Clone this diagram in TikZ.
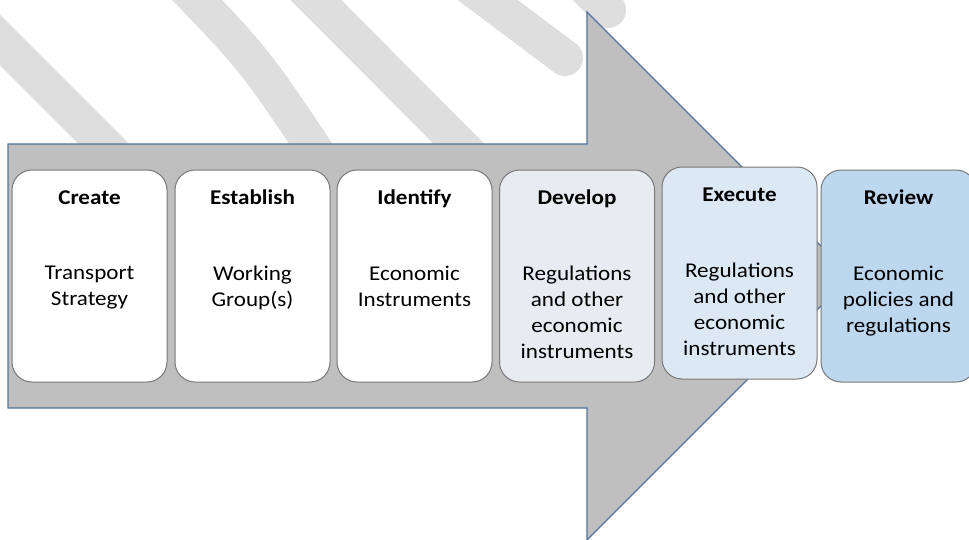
\documentclass[tikz,border=0pt]{standalone}
\usepackage{fontspec}
\setmainfont{Carlito}[FakeStretch=1.1]
\usetikzlibrary{calc}

\definecolor{arrowfill}{RGB}{191,191,191}
\definecolor{arrowline}{RGB}{84,115,158}
\definecolor{stripe}{RGB}{222,222,222}
\definecolor{boxline}{RGB}{120,120,120}
\definecolor{fillDevelop}{RGB}{232,235,241}
\definecolor{fillExecute}{RGB}{221,232,245}
\definecolor{fillReview}{RGB}{189,215,238}

\tikzset{
  stripeband/.style={draw=stripe, line width=36pt, line cap=round},
  bigarrow/.style={fill=arrowfill, draw=arrowline, line width=1.3pt, line join=miter},
  stepbox/.style={draw=boxline, line width=1pt, rounded corners=20pt,
    minimum width=155pt, minimum height=212pt, inner sep=0pt},
  steptitle/.style={font=\fontsize{21}{25}\selectfont\bfseries, inner sep=0pt, anchor=base},
  stepbody/.style={font=\fontsize{21}{26}\selectfont, align=center, inner sep=0pt, anchor=north},
}

\begin{document}
\begin{tikzpicture}[x=1pt, y=-1pt]
  \clip (0,0) rectangle (969,539);
  \fill[white] (0,0) rectangle (969,539);

  % faint background bands
  \draw[stripeband] (-30,10) -- (125,165);
  \draw[stripeband] (176,-22) .. controls (255,60) .. (325,165);
  \draw[stripeband] (296,-20) -- (475,160);
  \draw[stripeband] (461,-20) -- (565,58);
  \draw[stripeband] (570,-28) -- (608,10);

  % process arrow
  \draw[bigarrow] (8,144) -- (587,144) -- (587,12) -- (851,276)
    -- (587,540) -- (587,408) -- (8,408) -- cycle;

  % steps
  \node[stepbox, fill=white] (create) at (89.5,276) {};
  \node[stepbox, fill=white] (establish) at (252.5,276) {};
  \node[stepbox, fill=white] (identify) at (414.5,276) {};
  \node[stepbox, fill=fillDevelop] (develop) at (577,276) {};
  \node[stepbox, fill=fillExecute] (execute) at (739.5,273) {};
  \node[stepbox, fill=fillReview] (review) at (898.5,276) {};

  \foreach \n/\t in {create/Create, establish/Establish, identify/Identify,
                     develop/Develop, execute/Execute, review/Review}
    \node[steptitle] (\n-title) at ($(\n.north)+(0,35)$) {\t};

  \node[stepbody] (create-body) at ($(create.north)+(0,96)$) {Transport\\Strategy};
  \node[stepbody] (establish-body) at ($(establish.north)+(0,96)$) {Working\\Group(s)};
  \node[stepbody] (identify-body) at ($(identify.north)+(0,96)$) {Economic\\Instruments};
  \node[stepbody] (develop-body) at ($(develop.north)+(0,96)$) {Regulations\\and other\\economic\\instruments};
  \node[stepbody] (execute-body) at ($(execute.north)+(0,96)$) {Regulations\\and other\\economic\\instruments};
  \node[stepbody] (review-body) at ($(review.north)+(0,96)$) {Economic\\policies and\\regulations};
\end{tikzpicture}
\end{document}
